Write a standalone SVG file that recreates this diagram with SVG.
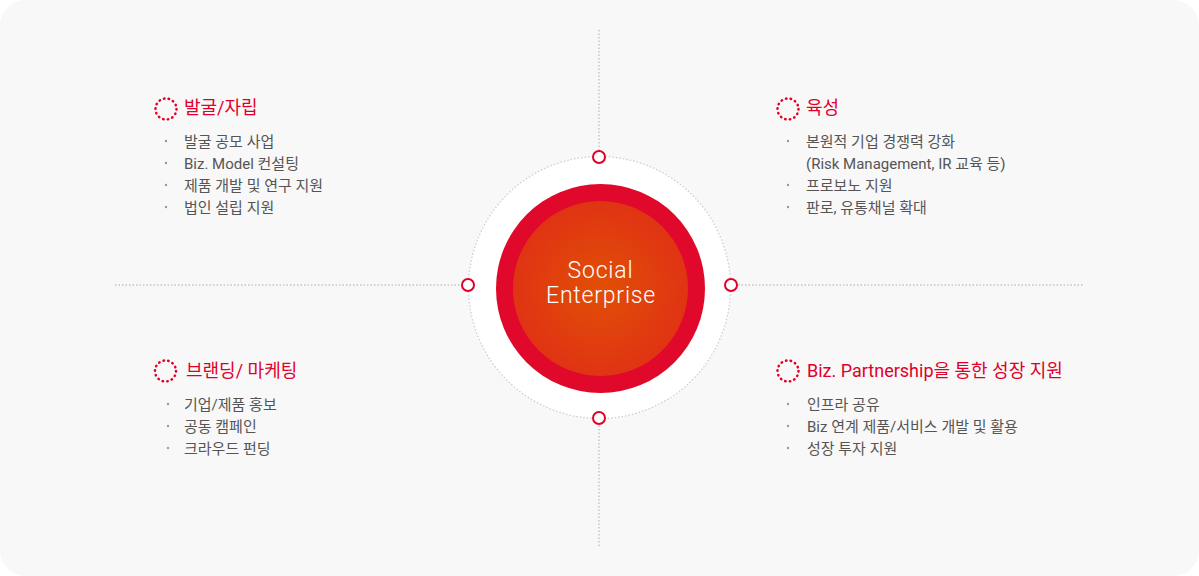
<svg xmlns="http://www.w3.org/2000/svg" width="1199" height="576" viewBox="0 0 1199 576">
<defs>
<radialGradient id="core" cx="50%" cy="50%" r="50%">
<stop offset="0" stop-color="#e14f05"/>
<stop offset="1" stop-color="#e03414"/>
</radialGradient>
<style>
.bg{fill:#f8f8f8}
.guide{stroke:#c4c4c4;stroke-width:1.5;stroke-dasharray:1.5 2;fill:none}
.port{fill:#fff;stroke:#e1002a;stroke-width:2}
.icon{fill:none;stroke:#e1002a;stroke-width:2.5;stroke-dasharray:0.5 4.21;stroke-linecap:round}
.h{font-family:Roboto,"Noto Sans CJK KR",sans-serif;font-size:18px;fill:#e1002a}
.t{font-family:Roboto,"Noto Sans CJK KR",sans-serif;font-size:15px;fill:#555}
.dot{fill:#999}
.c{font-family:Roboto,"Noto Sans",sans-serif;font-weight:300;font-size:23px;letter-spacing:0.8px;fill:#fff;text-anchor:middle}
</style>
</defs>
<rect class="bg" x="0" y="0" width="1199" height="576" rx="26"/>
<g id="connectors">
<line class="guide" x1="599" y1="30" x2="599" y2="546"/>
<line class="guide" x1="115" y1="285" x2="1083" y2="285"/>
</g>
<g id="center">
<circle cx="599.5" cy="287.5" r="131" fill="#fff" stroke="#cfcfcf" stroke-width="1.3" stroke-dasharray="1.5 2"/>
<circle cx="600.5" cy="288.5" r="104.5" fill="#e0092b"/>
<circle cx="600.5" cy="288.5" r="87.5" fill="url(#core)"/>
<text class="c" x="600.5" y="278">Social</text>
<text class="c" x="601" y="303">Enterprise</text>
<circle class="port" cx="599" cy="157" r="6"/>
<circle class="port" cx="599" cy="418" r="6"/>
<circle class="port" cx="468" cy="285" r="6"/>
<circle class="port" cx="731" cy="285" r="6"/>
</g>
<g id="node-tl">
<circle class="icon" cx="166" cy="109" r="10.5"/>
<text class="h" x="184" y="114">발굴/자립</text>
<circle class="dot" cx="166" cy="141" r="1.2"/><text class="t" x="184" y="147">발굴 공모 사업</text>
<circle class="dot" cx="166" cy="163" r="1.2"/><text class="t" x="184" y="169">Biz. Model 컨설팅</text>
<circle class="dot" cx="166" cy="185" r="1.2"/><text class="t" x="184" y="191">제품 개발 및 연구 지원</text>
<circle class="dot" cx="166" cy="207" r="1.2"/><text class="t" x="184" y="213">법인 설립 지원</text>
</g>
<g id="node-tr">
<circle class="icon" cx="788" cy="109" r="10.5"/>
<text class="h" x="806" y="114">육성</text>
<circle class="dot" cx="788" cy="141" r="1.2"/><text class="t" x="806" y="147">본원적 기업 경쟁력 강화</text>
<text class="t" x="806" y="169">(Risk Management, IR 교육 등)</text>
<circle class="dot" cx="788" cy="185" r="1.2"/><text class="t" x="806" y="191">프로보노 지원</text>
<circle class="dot" cx="788" cy="207" r="1.2"/><text class="t" x="806" y="213">판로, 유통채널 확대</text>
</g>
<g id="node-bl">
<circle class="icon" cx="165.5" cy="371" r="10.5"/>
<text class="h" x="186" y="377">브랜딩/ 마케팅</text>
<circle class="dot" cx="168" cy="404" r="1.2"/><text class="t" x="184" y="410">기업/제품 홍보</text>
<circle class="dot" cx="168" cy="426" r="1.2"/><text class="t" x="184" y="432">공동 캠페인</text>
<circle class="dot" cx="168" cy="448" r="1.2"/><text class="t" x="184" y="454">크라우드 펀딩</text>
</g>
<g id="node-br">
<circle class="icon" cx="788" cy="371" r="10.5"/>
<text class="h" x="807" y="377">Biz. Partnership을 통한 성장 지원</text>
<circle class="dot" cx="788" cy="404" r="1.2"/><text class="t" x="807" y="410">인프라 공유</text>
<circle class="dot" cx="788" cy="426" r="1.2"/><text class="t" x="807" y="432">Biz 연계 제품/서비스 개발 및 활용</text>
<circle class="dot" cx="788" cy="448" r="1.2"/><text class="t" x="807" y="454">성장 투자 지원</text>
</g>
</svg>
